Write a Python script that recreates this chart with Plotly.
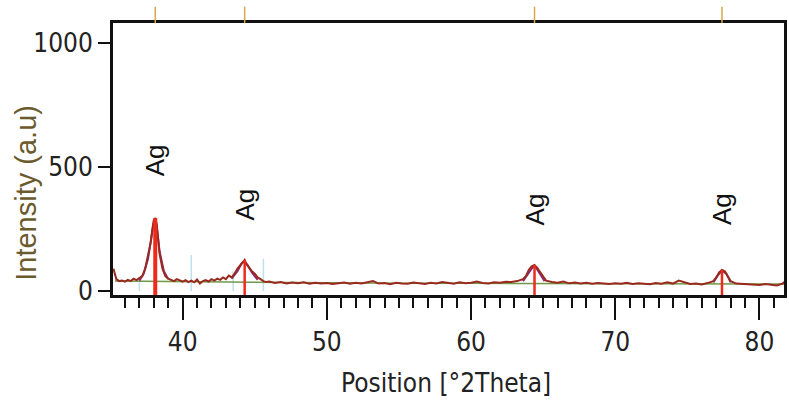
import plotly.graph_objects as go

# ---- data ----
obs_x = [35.2, 35.4, 35.6, 35.8, 36.0, 36.2, 36.4, 36.6, 36.8, 37.0,
         37.2, 37.4, 37.6, 37.8, 37.9, 38.0, 38.1, 38.2, 38.3, 38.4, 38.6, 38.8, 39.0,
         39.2, 39.4, 39.6, 39.8, 40.0, 40.2, 40.4, 40.6, 40.8, 41.0, 41.2, 41.4, 41.6, 41.8,
         42.0, 42.2, 42.4, 42.6, 42.8, 43.0, 43.2, 43.4, 43.6, 43.8, 44.0, 44.2, 44.3, 44.4,
         44.6, 44.8, 45.0, 45.2, 45.4, 45.6, 45.8, 46.0, 46.4, 46.8, 47.2, 47.6, 48.0, 48.4,
         48.8, 49.2, 49.6, 50.0, 50.4, 50.8, 51.2, 51.6, 52.0, 52.4, 52.8, 53.2, 53.6, 54.0,
         54.4, 54.8, 55.2, 55.6, 56.0, 56.4, 56.8, 57.2, 57.6, 58.0, 58.4, 58.8, 59.2, 59.6,
         60.0, 60.4, 60.8, 61.2, 61.6, 62.0, 62.4, 62.8, 63.2, 63.6, 63.8, 64.0, 64.2, 64.4,
         64.6, 64.8, 65.0, 65.2, 65.6, 66.0, 66.4, 66.8, 67.2, 67.6, 68.0, 68.4, 68.8, 69.2,
         69.6, 70.0, 70.4, 70.8, 71.2, 71.6, 72.0, 72.4, 72.8, 73.2, 73.6, 74.0, 74.4, 74.8,
         75.2, 75.6, 76.0, 76.4, 76.8, 77.0, 77.2, 77.4, 77.6, 77.8, 78.0, 78.4, 78.8, 79.2,
         79.6, 80.0, 80.4, 80.8, 81.2, 81.6, 81.8]
obs_y = [90, 48, 40, 42, 38, 45, 40, 50, 44, 52,
         60, 90, 140, 200, 250, 285, 294, 270, 210, 150, 90, 60, 50,
         46, 40, 48, 42, 38, 44, 36, 42, 35, 46, 30, 40, 44, 38,
         48, 42, 50, 45, 55, 48, 62, 55, 70, 90, 105, 120, 125, 110,
         95, 80, 70, 55, 48, 40, 36, 38, 32, 36, 30, 34, 31, 35,
         29, 33, 30, 32, 28, 31, 34, 29, 33, 30, 36, 40, 30, 32,
         27, 33, 30, 29, 34, 31, 28, 33, 30, 36, 32, 29, 35, 31,
         33, 38, 32, 30, 35, 33, 37, 36, 40, 48, 60, 85, 100, 105,
         92, 75, 55, 42, 36, 33, 38, 31, 34, 30, 33, 29, 32, 30,
         28, 31, 29, 33, 28, 31, 30, 27, 32, 29, 35, 30, 42, 34,
         28, 30, 26, 32, 40, 55, 75, 85, 80, 60, 40, 30, 28, 27,
         25, 24, 28, 26, 22, 30, 40]

bg_x = [35.3, 40.0, 45.0, 50.0, 55.0, 60.0, 65.0, 70.0, 75.0, 80.0, 81.8]
bg_y = [40, 38, 35, 32, 31, 31, 30, 29, 29, 28, 28]

fit_x = [37.0, 37.3, 37.6, 37.8, 38.0, 38.1, 38.2, 38.4, 38.7, 39.0, None,
         43.4, 43.8, 44.1, 44.3, 44.5, 44.8, 45.2, None,
         63.6, 64.0, 64.3, 64.5, 64.8, 65.1, None,
         76.8, 77.1, 77.4, 77.7, 78.0]
fit_y = [42, 70, 130, 210, 280, 290, 260, 160, 80, 48, None,
         50, 80, 112, 120, 105, 75, 45, None,
         40, 75, 98, 95, 70, 40, None,
         35, 62, 82, 70, 35]

peak_pos = [38.1, 44.3, 64.4, 77.4]
peak_int = [294, 125, 105, 85]
peak_label = ["Ag", "Ag", "Ag", "Ag"]
label_y = [528, 347, 327, 330]

faint_pos = [37.0, 40.6, 43.5, 45.6]
faint_int = [45, 145, 80, 130]

x_ticks = [40, 50, 60, 70, 80]
y_ticks = [0, 500, 1000]

NARROW = "DejaVu Sans Condensed, Liberation Sans Narrow, Liberation Sans"

fig = go.Figure()

fx, fy = [], []
for p, h in zip(faint_pos, faint_int):
    fx += [p, p, None]
    fy += [0, h, None]
fig.add_trace(go.Scatter(x=fx, y=fy, mode="lines",
                         line=dict(color="#bfe0f0", width=1.5), hoverinfo="skip"))

fig.add_trace(go.Scatter(x=bg_x, y=bg_y, mode="lines",
                         line=dict(color="#6f9a4a", width=1.5)))
fig.add_trace(go.Scatter(x=fit_x, y=fit_y, mode="lines",
                         line=dict(color="#8a2a7a", width=2), connectgaps=False))
fig.add_trace(go.Scatter(x=obs_x, y=obs_y, mode="lines",
                         line=dict(color="#9a2a1e", width=2)))

shapes = []
for i, (p, h) in enumerate(zip(peak_pos, peak_int)):
    shapes.append(dict(type="line", xref="x", yref="y", x0=p, x1=p, y0=-45, y1=h,
                       line=dict(color="#ee2a1a", width=4 if i == 0 else 2.5)))
    shapes.append(dict(type="line", xref="x", yref="paper", x0=p, x1=p, y0=1.0, y1=1.06,
                       line=dict(color="#d9a84a", width=1.5)))

annotations = []
for p, t, ly in zip(peak_pos, peak_label, label_y):
    annotations.append(dict(x=p, y=ly, xref="x", yref="y", text=t, showarrow=False,
                            textangle=-90, font=dict(family="Liberation Sans", size=26, color="#111111")))
annotations.append(dict(x=-0.13, y=0.375, xref="paper", yref="paper", text="Intensity (a.u)",
                        showarrow=False, textangle=-90, xanchor="center", yanchor="middle",
                        font=dict(family="Liberation Sans", size=29, color="#6b5a2e")))
annotations.append(dict(x=0.497, y=-0.325, xref="paper", yref="paper", text="Position [°2Theta]",
                        showarrow=False, xanchor="center", yanchor="middle",
                        font=dict(family=NARROW, size=26, color="#222222")))

fig.update_layout(
    width=789, height=406,
    margin=dict(l=113, r=2, t=23, b=111),
    paper_bgcolor="white", plot_bgcolor="white",
    showlegend=False,
    shapes=shapes, annotations=annotations,
    xaxis=dict(range=[35.17, 81.7], tickvals=x_ticks, ticks="outside", ticklen=22, tickwidth=2,
               tickcolor="#111111", showline=True, linewidth=3, linecolor="#111111", mirror=True,
               showgrid=False, zeroline=False,
               minor=dict(dtick=1, tick0=0, ticks="outside", ticklen=10, tickwidth=2, tickcolor="#111111", showgrid=False),
               tickfont=dict(family=NARROW, size=26, color="#222222")),
    yaxis=dict(range=[-16, 1080], tickvals=y_ticks, ticks="outside", ticklen=12, tickwidth=2,
               tickcolor="#111111", showline=True, linewidth=3, linecolor="#111111", mirror=True,
               showgrid=False, zeroline=False,
               tickfont=dict(family=NARROW, size=26, color="#222222")),
)

fig.write_html("out.html")
